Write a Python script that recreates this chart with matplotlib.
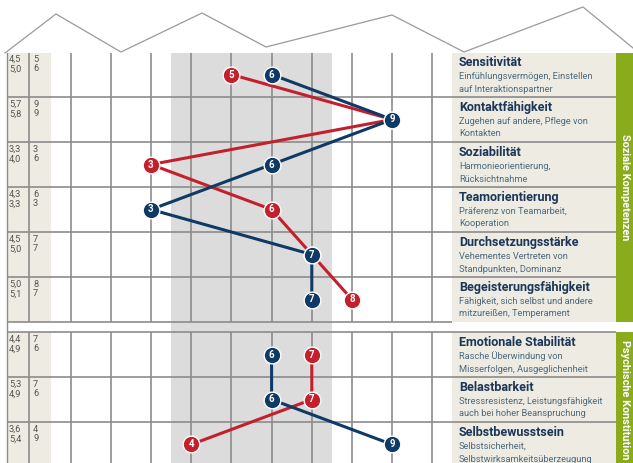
import numpy as np
import matplotlib.pyplot as plt
from matplotlib.patches import Rectangle

plt.rcParams['font.family'] = ['Roboto', 'DejaVu Sans']

# Daten: Soziale Kompetenzen
titel_1 = ["Sensitivität", "Kontaktfähigkeit", "Soziabilität", "Teamorientierung",
           "Durchsetzungsstärke", "Begeisterungsfähigkeit"]
text_1 = ["Einfühlungsvermögen, Einstellen\nauf Interaktionspartner",
          "Zugehen auf andere, Pflege von\nKontakten",
          "Harmonieorientierung,\nRücksichtnahme",
          "Präferenz von Teamarbeit,\nKooperation",
          "Vehementes Vertreten von\nStandpunkten, Dominanz",
          "Fähigkeit, sich selbst und andere\nmitzureißen, Temperament"]
rot_1 = [5, 9, 3, 6, 7, 8]
blau_1 = [6, 9, 6, 3, 7, 7]
mw_rot_1 = [4.5, 5.7, 3.3, 4.3, 4.5, 5.0]
mw_blau_1 = [5.0, 5.8, 4.0, 3.3, 5.0, 5.1]

# Daten: Psychische Konstitution
titel_2 = ["Emotionale Stabilität", "Belastbarkeit", "Selbstbewusstsein"]
text_2 = ["Rasche Überwindung von\nMisserfolgen, Ausgeglichenheit",
          "Stressresistenz, Leistungsfähigkeit\nauch bei hoher Beanspruchung",
          "Selbstsicherheit,\nSelbstwirksamkeitsüberzeugung"]
rot_2 = [7, 7, 4]
blau_2 = [6, 6, 9]
mw_rot_2 = [4.4, 5.3, 3.6]
mw_blau_2 = [4.9, 4.9, 5.4]

bereiche = ["Soziale Kompetenzen", "Psychische Konstitution"]

ROT = "#c4202b"
BLAU = "#0f3a66"
GRID = "#8c8c8c"
BEIGE = "#edebe2"
GRUEN = "#8aac1c"
TITEL = "#1b3658"
SUB = "#4d6a7e"

# Umrechnung Pixel -> Datenkoordinaten (x = Skalenwert, y = Zeile)
X3, DX = 151, 40.2
Y0, DY = 74.5, 45.0
def vx(px):
    return 3 + (px - X3) / DX
def ry(py):
    return (py - Y0) / DY

gap = 10 / DY
y1 = np.arange(len(rot_1))
y2 = len(rot_1) + gap + np.arange(len(rot_2))

fig = plt.figure(figsize=(6.33, 4.63), dpi=100)
ax = fig.add_axes([0, 0, 1, 1])
ax.set_xlim(vx(0), vx(633))
ax.set_ylim(ry(463), ry(0))
ax.axis('off')

# Papierkante oben (Zickzack)
zx = [5, 56, 121, 202, 266, 392, 464, 583, 633]
zy = [53, 14, 52, 13, 47, 15, 52, 7, 48]
ax.plot([vx(p) for p in zx], [ry(p) for p in zy], color="#9a9a9a", lw=0.9, zorder=1)
ax.plot([vx(7), vx(7)], [ry(53), ry(463)], color=GRID, lw=1.0, zorder=2)

# Sektionen: (oben, unten) in Zeilen
sektionen = [(y1[0] - 0.5, y1[-1] + 0.5), (y2[0] - 0.5, y2[-1] + 0.5)]

# grauer Normbereich
ax.add_patch(Rectangle((3.5, ry(53)), 4, ry(463) - ry(53), color="#dcdcdc", lw=0, zorder=0))

for i, (top, bot) in enumerate(sektionen):
    top_d = max(top, ry(53))
    bot_d = min(bot, ry(463))
    h = bot_d - top_d
    ax.add_patch(Rectangle((vx(7), top_d), vx(51) - vx(7), h, color=BEIGE, lw=0, zorder=0))
    ax.add_patch(Rectangle((vx(452), top_d), vx(616) - vx(452), h, color=BEIGE, lw=0, zorder=0))
    ax.add_patch(Rectangle((vx(616), top_d), vx(633) - vx(616), h, color=GRUEN, lw=0, zorder=0))
    ax.vlines(np.arange(1, 11), top_d, bot_d, color=GRID, lw=1.2, zorder=1)
    ax.vlines(vx(29), top_d, bot_d, color=GRID, lw=1.2, zorder=1)
    ax.text((vx(616) + vx(633)) / 2, (top + bot) / 2, bereiche[i], rotation=-90,
            ha='center', va='center', color='white', fontsize=7.8, fontweight='bold')

# horizontale Linien
for yy in np.r_[y1[:-1] + 0.5, y2[:-1] + 0.5, sektionen[1][0]]:
    ax.hlines(yy, vx(7), vx(616), color=GRID, lw=1.2, zorder=1)
ax.hlines(sektionen[0][1], vx(7), vx(452), color=GRID, lw=1.2, zorder=1)

def zeilen(ys, titel, text, rot, blau, mw_r, mw_b):
    for y, t, s, r, b, mr, mb in zip(ys, titel, text, rot, blau, mw_r, mw_b):
        top = y - 0.5
        ax.text(vx(459), top + 14 / DY, t, color=TITEL, fontsize=9, fontweight='bold',
                va='baseline', ha='left')
        for k, zeile in enumerate(s.split("\n")):
            ax.text(vx(459), top + (27 + 12.5 * k) / DY, zeile, color=SUB, fontsize=6.7,
                    va='baseline', ha='left')
        mw = f"{mr:.1f}\n{mb:.1f}".replace('.', ',')
        ax.text(vx(9), top + 3 / DY, mw, color="#555555", fontsize=6.7, va='top',
                ha='left', linespacing=1.05)
        ax.text(vx(33), top + 3 / DY, f"{r}\n{b}", color="#555555", fontsize=6.7,
                va='top', ha='left', linespacing=1.05)

zeilen(y1, titel_1, text_1, rot_1, blau_1, mw_rot_1, mw_blau_1)
zeilen(y2, titel_2, text_2, rot_2, blau_2, mw_rot_2, mw_blau_2)

# Profillinien
for ys, rot, blau in [(y1, rot_1, blau_1), (y2, rot_2, blau_2)]:
    for werte, farbe, z in [(rot, ROT, 3), (blau, BLAU, 5)]:
        ax.plot(werte, ys, color=farbe, lw=2.2, zorder=z, solid_capstyle='round')
        ax.plot(werte, ys, 'o', color=farbe, ms=12, mec='white', mew=1.0, zorder=z + 0.5)
        for w, y in zip(werte, ys):
            ax.text(w, y, str(w), color='white', fontsize=7, fontweight='bold',
                    ha='center', va='center', zorder=z + 1)

fig.savefig("out.png", dpi=100)
